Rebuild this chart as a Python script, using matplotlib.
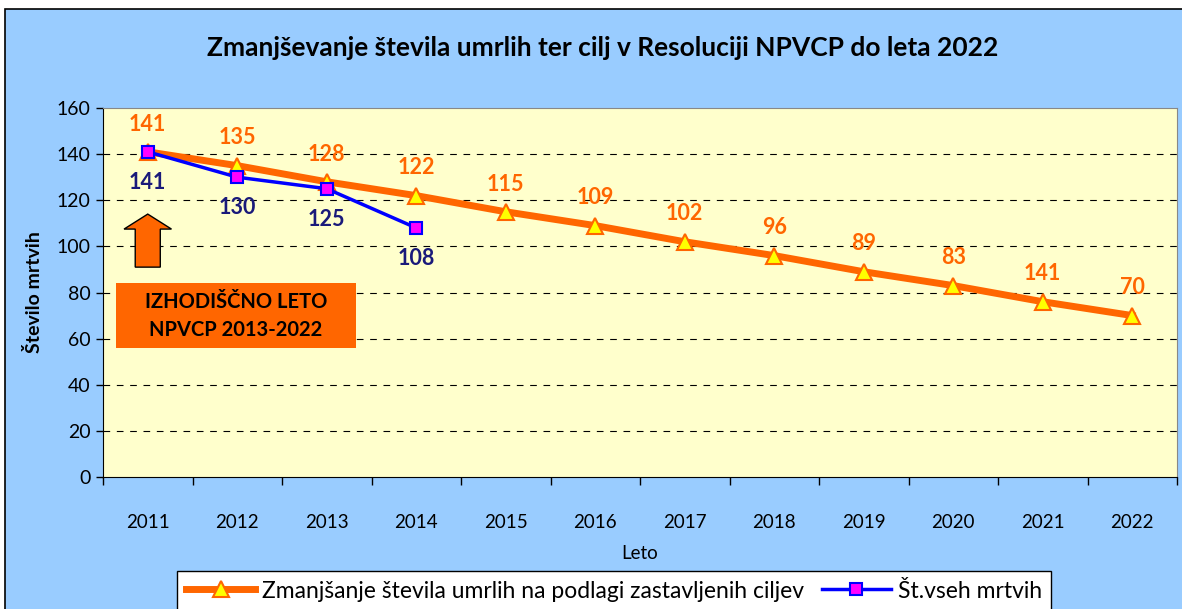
import matplotlib
matplotlib.use("Agg")
from matplotlib import pyplot as plt
from matplotlib.patches import Rectangle, FancyArrow
import numpy as np

years = ["2011", "2012", "2013", "2014", "2015", "2016",
         "2017", "2018", "2019", "2020", "2021", "2022"]
target = [141, 135, 128, 122, 115, 109, 102, 96, 89, 83, 76, 70]
target_labels = ["141", "135", "128", "122", "115", "109",
                 "102", "96", "89", "83", "141", "70"]
actual = [141, 130, 125, 108]
actual_labels = ["141", "130", "125", "108"]

ORANGE = "#FF6600"
plt.rcParams["font.family"] = ["Lato", "DejaVu Sans"]

W, H = 1182, 609
fig = plt.figure(figsize=(W / 100, H / 100), dpi=100, facecolor="white")
# blue background panel with black outline
fig.patches.append(Rectangle((5 / W, -0.01), 1.0, (H - 9) / H + 0.01, transform=fig.transFigure,
                             facecolor="#99CCFF", edgecolor="black", linewidth=1.2, zorder=-5))

ax = fig.add_axes([103 / W, 1 - 477 / H, (1177 - 103) / W, (477 - 108) / H])
ax.set_facecolor("#FFFFCC")
x = np.arange(len(years))

ax.plot(x, target, color=ORANGE, lw=5, marker="^", ms=12, mfc="yellow", mec=ORANGE,
        mew=1.5, zorder=3, label="Zmanjšanje števila umrlih na podlagi zastavljenih ciljev")
ax.plot(x[:len(actual)], actual, color="#0000FF", lw=2.5, marker="s", ms=8, mfc="#FF00FF",
        mec="#0000FF", mew=1.5, zorder=4, label="Št.vseh mrtvih")

for xi, v, t in zip(x, target, target_labels):
    ax.annotate(t, (xi, v), xytext=(0, 20), textcoords="offset points", ha="center",
                va="center", color=ORANGE, fontsize=15.5, fontweight="bold")
for xi, v, t in zip(x, actual, actual_labels):
    ax.annotate(t, (xi, v), xytext=(0, -22), textcoords="offset points", ha="center",
                va="center", color="#1A1A7A", fontsize=15.5, fontweight="bold")

ax.set_xlim(-0.5, len(years) - 0.5)
ax.set_ylim(0, 160)
ax.set_yticks(range(0, 161, 20))
ax.set_xticks(x)
ax.set_xticklabels(years)
ax.set_xticks(np.arange(-0.5, len(years), 1.0), minor=True)
ax.tick_params(axis="x", which="major", length=0, pad=27, labelsize=13.5)
ax.tick_params(axis="x", which="minor", length=6, width=1, direction="out")
ax.tick_params(axis="y", length=5, width=1, direction="out", labelsize=14, pad=4)
for yv in range(20, 160, 20):
    ax.axhline(yv, color="black", lw=0.8, ls=(0, (6, 6)), zorder=1)

for s in ("top", "right"):
    ax.spines[s].set_color("#888888")
for s in ("left", "bottom"):
    ax.spines[s].set_color("black")

ax.set_ylabel("Število mrtvih", fontsize=14, fontweight="bold", labelpad=10)
ax.set_xlabel("Leto", fontsize=13.5, labelpad=10)
fig.text(603 / W, 1 - 48 / H, "Zmanjševanje števila umrlih ter cilj v Resoluciji NPVCP do leta 2022",
         ha="center", va="center", fontsize=19, fontweight="bold")

# starting year marker: arrow and box
ax.add_patch(FancyArrow(0, 91, 0, 23, width=0.28, head_width=0.53, head_length=6.5,
                        length_includes_head=True, facecolor=ORANGE, edgecolor="black",
                        lw=1, zorder=5))
box_x0 = ax.transData.inverted().transform((116, H - 348))
box_x1 = ax.transData.inverted().transform((356, H - 283))
ax.add_patch(Rectangle(box_x0, box_x1[0] - box_x0[0], box_x1[1] - box_x0[1],
                       facecolor=ORANGE, edgecolor="none", zorder=5))
ax.text((box_x0[0] + box_x1[0]) / 2, (box_x0[1] + box_x1[1]) / 2,
        "IZHODIŠČNO LETO\nNPVCP 2013-2022", ha="center", va="center",
        fontsize=14.5, fontweight="bold", linespacing=1.5, zorder=6)

leg = fig.legend(loc="center", bbox_to_anchor=(614 / W, 1 - 591 / H), ncol=2,
                 frameon=True, fancybox=False, edgecolor="black", facecolor="white",
                 framealpha=1, fontsize=16.5, handlelength=3, columnspacing=0.8,
                 handletextpad=0.3, borderpad=0.4)
leg.get_frame().set_linewidth(1)

fig.savefig("out.png", dpi=100, facecolor=fig.get_facecolor())
